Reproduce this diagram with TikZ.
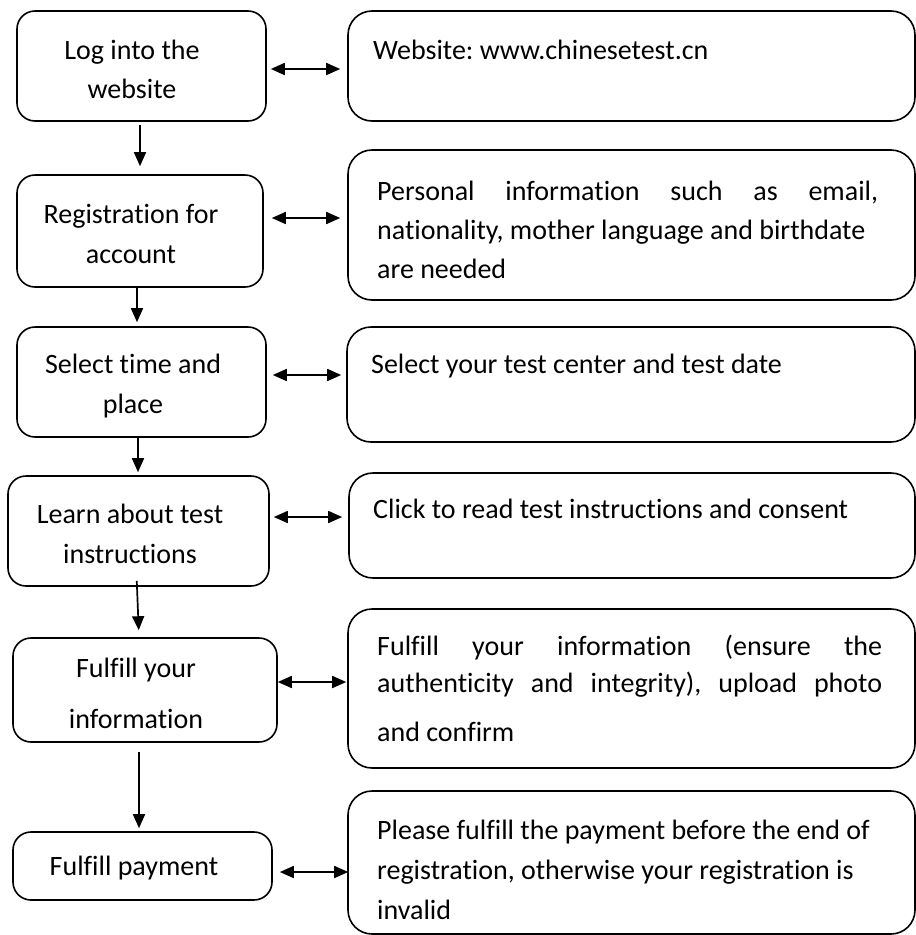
\documentclass[tikz,border=0pt]{standalone}
\usepackage{fontspec}
\setmainfont{Carlito}[Ligatures=NoCommon]
\usetikzlibrary{arrows.meta}
\frenchspacing
\begin{document}
\begin{tikzpicture}[x=1pt,y=-1pt,
  lbox/.style={draw, line width=1.6pt, rounded corners=18pt, rectangle, inner sep=0pt},
  rbox/.style={draw, line width=1.6pt, rounded corners=24pt, rectangle, inner sep=0pt},
  txt/.style={inner sep=0pt, font=\fontsize{28}{40}\selectfont},
  flow/.style={line width=1.7pt, -{Triangle[length=14pt,width=12pt]}},
  link/.style={line width=1.7pt, {Triangle[length=14pt,width=12pt]}-{Triangle[length=14pt,width=12pt]}}]
\useasboundingbox (0,0) rectangle (916,935);
\clip (0,0) rectangle (916,935);
% left boxes
\node[lbox, minimum width=249pt, minimum height=110pt] (L1) at (141.5,66) {};
\node[lbox, minimum width=246pt, minimum height=112pt] (L2) at (140,231) {};
\node[lbox, minimum width=249pt, minimum height=110pt] (L3) at (141.5,382) {};
\node[lbox, minimum width=261pt, minimum height=110pt] (L4) at (138.5,531) {};
\node[lbox, minimum width=264pt, minimum height=104pt] (L5) at (145,690) {};
\node[lbox, minimum width=259pt, minimum height=68pt] (L6) at (142.5,866) {};
% right boxes
\node[rbox, minimum width=567pt, minimum height=110pt] (R1) at (631.5,66) {};
\node[rbox, minimum width=567pt, minimum height=150pt] (R2) at (631.5,225) {};
\node[rbox, minimum width=568pt, minimum height=115pt] (R3) at (631,384.5) {};
\node[rbox, minimum width=566pt, minimum height=105pt] (R4) at (632,525.5) {};
\node[rbox, minimum width=567pt, minimum height=159pt] (R5) at (631.5,688.5) {};
\node[rbox, minimum width=567pt, minimum height=143pt] (R6) at (631.5,862.5) {};
% left texts
\node[txt, anchor=base, font=\fontsize{28}{39}\selectfont] (L1t) at (132,59) {\parbox[t]{240pt}{\centering Log into the\\website}};
\node[txt, anchor=base] (L2t) at (131,223) {\parbox[t]{240pt}{\centering Registration for\\account}};
\node[txt, anchor=base] (L3t) at (133,373) {\parbox[t]{240pt}{\centering Select time and\\place}};
\node[txt, anchor=base] (L4t) at (130,523) {\parbox[t]{240pt}{\centering Learn about test\\instructions}};
\node[txt, anchor=base, font=\fontsize{28}{51}\selectfont] (L5t) at (136,677) {\parbox[t]{240pt}{\centering Fulfill your\\information}};
\node[txt, anchor=base] (L6t) at (134,875) {Fulfill payment};
% right texts
\node[txt, anchor=base west] (R1t) at (373,59) {Website: www.chinesetest.cn};
\node[txt, anchor=base west, font=\fontsize{28}{39}\selectfont] (R2t) at (377,200) {\parbox[t]{600pt}{\raggedright\makebox[501pt][s]{Personal information such as email,}\\nationality, mother language and birthdate\\are needed}};
\node[txt, anchor=base west] (R3t) at (371,373) {Select your test center and test date};
\node[txt, anchor=base west] (R4t) at (373,518) {Click to read test instructions and consent};
\node[txt, anchor=base west, font=\fontsize{28}{37}\selectfont] (R5t) at (377,655) {\parbox[t]{600pt}{\raggedright\makebox[505pt][s]{Fulfill your information (ensure the}\\\makebox[505pt][s]{authenticity and integrity), upload photo}\\[12pt]and confirm}};
\node[txt, anchor=base west] (R6t) at (377,839) {\parbox[t]{600pt}{\raggedright Please fulfill the payment before the end of\\registration, otherwise your registration is\\invalid}};
% vertical flow arrows
\draw[flow, shorten <=3pt, shorten >=8pt] ([xshift=-1.5pt]L1.south) -- ([xshift=-1.5pt]L1.south |- L2.north);
\draw[flow, shorten >=4pt] ([xshift=-3pt]L2.south) -- ([xshift=-3pt]L2.south |- L3.north);
\draw[flow, shorten >=3pt] ([xshift=-3.5pt]L3.south) -- ([xshift=-3.5pt]L3.south |- L4.north);
\draw[flow, shorten <=-6pt, shorten >=7pt] ([xshift=-1.5pt]L4.south) -- ([xshift=0.5pt]L4.south |- L5.north);
\draw[flow, shorten <=9pt, shorten >=3pt] ([xshift=-6pt]L5.south) -- ([xshift=-6pt]L5.south |- L6.north);
% horizontal links
\draw[link, shorten <=4pt, shorten >=7pt] ([yshift=-3pt]L1.east) -- ([yshift=-3pt]L1.east -| R1.west);
\draw[link, shorten <=8pt, shorten >=7pt] ([yshift=13pt]L2.east) -- ([yshift=13pt]L2.east -| R2.west);
\draw[link, shorten <=6pt, shorten >=5pt] ([yshift=7pt]L3.east) -- ([yshift=7pt]L3.east -| R3.west);
\draw[link, shorten <=4pt, shorten >=6pt] ([yshift=14pt]L4.east) -- ([yshift=14pt]L4.east -| R4.west);
\draw[link, shorten <=0pt, shorten >=1pt] ([yshift=8pt]L5.east) -- ([yshift=8pt]L5.east -| R5.west);
\draw[link, shorten <=7pt, shorten >=-1pt] ([yshift=-6pt]L6.east) -- ([yshift=-6pt]L6.east -| R6.west);
\end{tikzpicture}
\end{document}
